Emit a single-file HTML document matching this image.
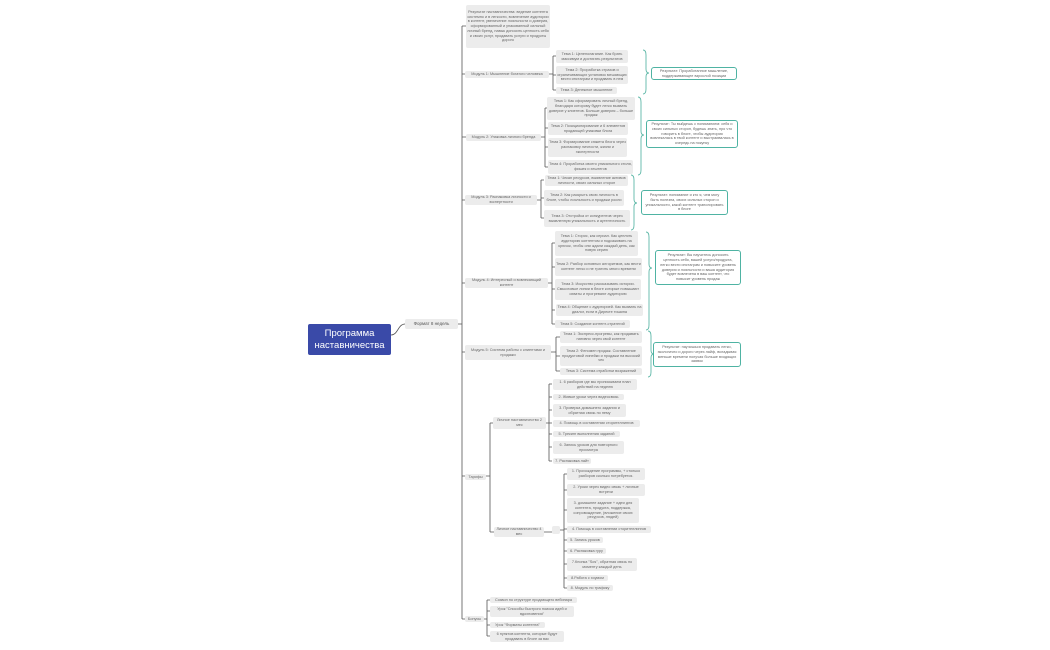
<!DOCTYPE html>
<html><head><meta charset="utf-8"><style>
body{margin:0;width:1050px;height:650px;background:#fff;position:relative;overflow:hidden;font-family:"Liberation Sans",sans-serif}
.n{position:absolute;background:#ececec;border-radius:2px;font-size:3.8px;line-height:1.25;color:#666;display:flex;align-items:center;justify-content:center;text-align:center;box-sizing:border-box;padding:0 1px;overflow:hidden}
.r{position:absolute;background:#fff;border:1px solid #4fb3a3;border-radius:3px;font-size:3.8px;line-height:1.3;color:#666;display:flex;align-items:center;justify-content:center;text-align:center;box-sizing:border-box;padding:0 3px}
svg{position:absolute;left:0;top:0}
</style></head><body>
<svg width="1050" height="650">
<g fill="none" stroke="#555" stroke-width="0.8">
<path d="M391,335 C398,335 398,324 405,324"/>
<path d="M458,324 H462 M462,26 V619 M462,26H466 M462,74H465 M462,137H466 M462,200H465 M462,283H465 M462,352H465 M462,476H465 M462,619H465"/>
<path d="M549,74H553 M553,56V90 M553,56H556 M553,75H556 M553,90H556"/>
<path d="M541,137H545 M545,108V167 M545,108H548 M545,128H548 M545,147H548 M545,167H548"/>
<path d="M537,200H541 M541,180V218 M541,180H544 M541,198H544 M541,218H544"/>
<path d="M548,283H552 M552,243V324 M552,243H555 M552,267H555 M552,289H555 M552,310H555 M552,324H555"/>
<path d="M551,352H556 M556,337V371 M556,337H560 M556,356H560 M556,371H560"/>
<path d="M486,476H490 M490,423V532 M490,423H493 M490,532H494"/>
<path d="M546,423H549 M549,384V461 M549,384H552 M549,397H552 M549,410H552 M549,423H552 M549,434H552 M549,447H552 M549,461H552"/>
<path d="M544,532H552 M560,530H564 M564,474V588 M564,474H567 M564,490H567 M564,510H567 M564,529H567 M564,540H567 M564,551H567 M564,564H567 M564,578H567 M564,588H567"/>
<path d="M484,619H487 M487,600V636 M487,600H490 M487,611H490 M487,625H490 M487,636H490"/>
</g>
<g fill="none" stroke="#5fb8a8" stroke-width="0.9">
<path d="M643,50 Q646,50 646,55 V69 Q646,73 649,73 Q646,73 646,77 V89 Q646,94 643,94"/>
<path d="M638,97 Q641,97 641,102 V131 Q641,135 644,135 Q641,135 641,139 V170 Q641,175 638,175"/>
<path d="M631,175 Q634,175 634,180 V199 Q634,203 637,203 Q634,203 634,207 V225 Q634,230 631,230"/>
<path d="M646,232 Q649,232 649,237 V264 Q649,268 652,268 Q649,268 649,272 V325 Q649,330 646,330"/>
<path d="M648,331 Q651,331 651,336 V350 Q651,354 654,354 Q651,354 651,358 V372 Q651,377 648,377"/>
</g>
</svg>
<div class="n" style="left:308px;top:324px;width:83px;height:31px;background:#3a4aa8;color:#fff;font-size:9.5px;line-height:1.25;border-radius:2px">Программа наставничества</div>
<div class="n" style="left:405px;top:319px;width:53px;height:10px;font-size:4.5px;color:#555">Формат 8 недель</div>

<div class="n" style="left:466px;top:5px;width:84px;height:43px">Результат наставничества: ведение контента системно и в легкости, вовлечение аудитории в контент, увеличение лояльности и доверия, сформированный и упакованный сильный личный бренд, навык доносить ценность себя и своих услуг, продавать услуги и продукты дорого</div>

<div class="n" style="left:465px;top:71px;width:84px;height:7px">Модуль 1: Мышление богатого человека</div>
<div class="n" style="left:556px;top:50px;width:72px;height:13px">Тема 1: Целеполагание. Как брать максимум и достигать результатов</div>
<div class="n" style="left:556px;top:66px;width:72px;height:18px">Тема 2: Проработка страхов и ограничивающих установок мешающих вести инстаграм и продавать в нем</div>
<div class="n" style="left:556px;top:87px;width:61px;height:7px">Тема 3: Денежное мышление</div>
<div class="r" style="left:651px;top:67px;width:86px;height:13px">Результат: Проработанное мышление, поддерживающее взрослой позиции</div>

<div class="n" style="left:466px;top:134px;width:75px;height:7px">Модуль 2: Упаковка личного бренда</div>
<div class="n" style="left:547px;top:97px;width:88px;height:23px">Тема 1: Как сформировать личный бренд, благодаря которому будет легко вызвать доверие у клиентов. Больше доверия – больше продаж</div>
<div class="n" style="left:548px;top:122px;width:80px;height:13px">Тема 2: Позиционирование и 6 элементов продающей упаковки блога</div>
<div class="n" style="left:548px;top:138px;width:79px;height:19px">Тема 3: Формирование сюжета блога через распаковку личности, жизни и экспертности</div>
<div class="n" style="left:548px;top:160px;width:85px;height:14px">Тема 4: Проработка своего уникального стиля, фишек и хештегов</div>
<div class="r" style="left:646px;top:120px;width:92px;height:28px">Результат: Ты выйдешь с пониманием: себя и своих сильных сторон, будешь знать, про что говорить в блоге, чтобы аудитория вовлекалась в твой контент и выстраивалась в очередь на покупку</div>

<div class="n" style="left:465px;top:195px;width:72px;height:10px">Модуль 3: Распаковка личности и экспертности</div>
<div class="n" style="left:545px;top:175px;width:83px;height:11px">Тема 1: Чекап ресурсов, выявление активов личности, своих сильных сторон</div>
<div class="n" style="left:544px;top:190px;width:80px;height:16px">Тема 2: Как раскрыть свою личность в блоге, чтобы лояльность и продажи росли</div>
<div class="n" style="left:544px;top:210px;width:86px;height:17px">Тема 3: Отстройка от конкурентов через выявленную уникальность и аутентичность</div>
<div class="r" style="left:641px;top:190px;width:87px;height:25px">Результат: понимание и кто я, чем могу быть полезна, своих сильных сторон и уникальности, какой контент транслировать в блоге</div>

<div class="n" style="left:465px;top:278px;width:83px;height:10px">Модуль 4: Интересный и вовлекающий контент</div>
<div class="n" style="left:555px;top:231px;width:83px;height:25px">Тема 1: Сторис, как сериал. Как цеплять аудиторию контентом и подсаживать на крючок, чтобы они ждали каждый день, как новую серию</div>
<div class="n" style="left:555px;top:258px;width:87px;height:18px">Тема 2: Разбор основных алгоритмов, как вести контент легко и не тратить много времени</div>
<div class="n" style="left:555px;top:279px;width:86px;height:21px">Тема 3: Искусство рассказывать истории. Смысловые линии в блоге которые повышают охваты и прогревают аудиторию</div>
<div class="n" style="left:556px;top:304px;width:87px;height:12px">Тема 4: Общение с аудиторией. Как вызвать на диалог, если в Директе тишина</div>
<div class="n" style="left:555px;top:320px;width:75px;height:8px">Тема 5: Создание контент-стратегий</div>
<div class="r" style="left:655px;top:250px;width:86px;height:35px">Результат: Вы научитесь доносить ценность себя, вашей услуги/продукта, легко вести инстаграм и повысите уровень доверия и лояльности и ваша аудитория будет вовлечена в ваш контент, что повысит уровень продаж</div>

<div class="n" style="left:465px;top:345px;width:86px;height:15px">Модуль 5: Система работы с клиентами и продажи</div>
<div class="n" style="left:560px;top:331px;width:82px;height:12px">Тема 1: Экспресс-прогревы, как продавать нативно через свой контент</div>
<div class="n" style="left:560px;top:346px;width:82px;height:20px">Тема 2: Феномен продаж. Составление продуктовой линейки и продажи на высокий чек</div>
<div class="n" style="left:560px;top:368px;width:82px;height:7px">Тема 3: Система отработки возражений</div>
<div class="r" style="left:653px;top:342px;width:88px;height:25px">Результат: научишься продавать легко, экологично и дорого через лайф, вкладывая меньше времени получая больше входящих заявок</div>

<div class="n" style="left:465px;top:474px;width:21px;height:6px">Тарифы</div>
<div class="n" style="left:493px;top:417px;width:53px;height:12px">Личное наставничество 2 мес</div>
<div class="n" style="left:553px;top:379px;width:84px;height:11px">1. 6 разборов где мы прописываем план действий на неделю</div>
<div class="n" style="left:553px;top:394px;width:71px;height:6px">2. Живые уроки через видеосвязь</div>
<div class="n" style="left:553px;top:404px;width:73px;height:13px">3. Проверка домашнего задания и обратная связь по нему</div>
<div class="n" style="left:553px;top:420px;width:87px;height:7px">4. Помощь в составлении сторителлингов</div>
<div class="n" style="left:553px;top:431px;width:67px;height:6px">5. Трекинг выполнения заданий</div>
<div class="n" style="left:553px;top:441px;width:71px;height:13px">6. Запись уроков для повторного просмотра</div>
<div class="n" style="left:553px;top:458px;width:38px;height:6px">7. Распаковка лайт</div>

<div class="n" style="left:494px;top:527px;width:50px;height:10px">Личное наставничество 4 мес</div>
<div class="n" style="left:552px;top:526px;width:8px;height:8px"></div>
<div class="n" style="left:567px;top:468px;width:78px;height:12px">1. Прохождение программы, + столько разборов сколько потребуется.</div>
<div class="n" style="left:567px;top:484px;width:78px;height:12px">2. Уроки через видео связь + личные встречи</div>
<div class="n" style="left:567px;top:498px;width:72px;height:25px">3. домашнее задание + идеи для контента, продукта, поддержка, сопровождение, (вложение своих ресурсов, людей)</div>
<div class="n" style="left:567px;top:526px;width:84px;height:7px">4. Помощь в составлении сторителлингов</div>
<div class="n" style="left:567px;top:537px;width:36px;height:6px">5. Запись уроков</div>
<div class="n" style="left:567px;top:548px;width:39px;height:6px">6. Распаковка гуру</div>
<div class="n" style="left:567px;top:558px;width:70px;height:13px">7.Кнопка "Sos", обратная связь по моменту каждый день</div>
<div class="n" style="left:567px;top:575px;width:41px;height:6px">8.Работа с хоумом</div>
<div class="n" style="left:567px;top:585px;width:46px;height:6px">8. Модуль по трафику</div>

<div class="n" style="left:465px;top:616px;width:19px;height:6px">Бонусы</div>
<div class="n" style="left:490px;top:597px;width:87px;height:6px">Созвон по структуре продающего вебинара</div>
<div class="n" style="left:490px;top:606px;width:84px;height:11px">Урок "Способы быстрого поиска идей и вдохновения"</div>
<div class="n" style="left:490px;top:622px;width:55px;height:6px">Урок "Форматы контента"</div>
<div class="n" style="left:490px;top:631px;width:74px;height:11px">6 пунктов контента, которые будут продавать в блоге за вас</div>
</body></html>
